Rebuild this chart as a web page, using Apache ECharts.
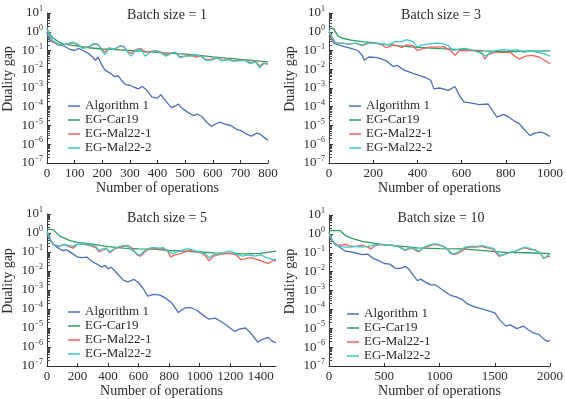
<!DOCTYPE html>
<html>
<head>
<meta charset="utf-8">
<script src="https://cdn.jsdelivr.net/npm/echarts@6/dist/echarts.min.js"></script>
<style>
  html, body { margin: 0; padding: 0; background: #fff; }
  #chart { width: 566px; height: 399px; }
</style>
</head>
<body>
<div id="chart"></div>
<script>
const seriesNames = ['Algorithm 1', 'EG-Car19', 'EG-Mal22-1', 'EG-Mal22-2']
const batchTitles = ['Batch size = 1', 'Batch size = 3', 'Batch size = 5', 'Batch size = 10']
const xMax = [800, 1000, 1500, 2000]
const xInterval = [100, 200, 200, 500]

// batch size = 1
const b1Alg = [[0, 1.0], [5, 0.5], [10, 0.35], [20, 0.3], [40, 0.2], [60, 0.18], [80, 0.12], [100, 0.1], [115, 0.13], [130, 0.1], [150, 0.07], [165, 0.045], [175, 0.03], [185, 0.045], [200, 0.015], [210, 0.009], [230, 0.006], [245, 0.004], [258, 0.0045], [270, 0.0025], [285, 0.0015], [300, 0.0014], [315, 0.0011], [330, 0.0009], [345, 0.0012], [360, 0.0008], [380, 0.00033], [400, 0.00029], [412, 0.00044], [430, 0.0002], [450, 0.00009], [465, 0.00011], [475, 0.00014], [490, 0.00008], [510, 0.00005], [530, 0.000034], [545, 0.00004], [560, 0.00003], [580, 0.000014], [595, 0.000009], [610, 0.000012], [625, 0.000015], [645, 0.000012], [665, 0.00001], [685, 0.0000065], [700, 0.0000055], [720, 0.0000036], [740, 0.0000027], [760, 0.0000039], [772, 0.0000034], [785, 0.0000024], [800, 0.0000016]]
const b1Car = [[0, 1.4], [10, 0.8], [20, 0.5], [40, 0.3], [60, 0.22], [100, 0.18], [150, 0.14], [200, 0.12], [250, 0.11], [300, 0.1], [350, 0.09], [400, 0.08], [450, 0.07], [500, 0.064], [550, 0.055], [600, 0.046], [650, 0.039], [700, 0.034], [750, 0.029], [800, 0.025]]
const b1Mal1 = [[0, 1.5], [8, 0.6], [20, 0.3], [40, 0.22], [60, 0.2], [80, 0.23], [95, 0.26], [110, 0.2], [130, 0.14], [150, 0.16], [170, 0.22], [185, 0.2], [200, 0.11], [210, 0.08], [225, 0.14], [245, 0.12], [265, 0.17], [280, 0.15], [295, 0.08], [305, 0.07], [320, 0.11], [340, 0.13], [355, 0.08], [375, 0.09], [395, 0.1], [415, 0.08], [430, 0.06], [450, 0.075], [465, 0.08], [480, 0.045], [500, 0.05], [520, 0.055], [540, 0.045], [560, 0.05], [575, 0.033], [595, 0.035], [615, 0.04], [635, 0.03], [655, 0.035], [675, 0.028], [695, 0.03], [715, 0.032], [735, 0.022], [755, 0.026], [770, 0.015], [785, 0.022], [800, 0.018]]
const b1Mal2 = [[0, 1.6], [8, 0.7], [20, 0.35], [40, 0.22], [60, 0.2], [80, 0.24], [95, 0.28], [110, 0.22], [130, 0.13], [150, 0.15], [170, 0.24], [185, 0.22], [200, 0.09], [210, 0.06], [225, 0.13], [245, 0.12], [265, 0.18], [280, 0.16], [295, 0.07], [305, 0.05], [320, 0.1], [340, 0.12], [355, 0.05], [375, 0.08], [395, 0.1], [415, 0.07], [430, 0.05], [450, 0.07], [465, 0.08], [480, 0.04], [500, 0.05], [520, 0.05], [540, 0.06], [560, 0.045], [575, 0.03], [595, 0.03], [615, 0.04], [635, 0.028], [655, 0.033], [675, 0.026], [695, 0.028], [715, 0.03], [735, 0.02], [755, 0.025], [770, 0.012], [785, 0.02], [800, 0.02]]

// batch size = 3
const b3Alg = [[0, 1.0], [20, 0.25], [60, 0.17], [100, 0.13], [130, 0.1], [150, 0.056], [160, 0.03], [180, 0.045], [220, 0.042], [260, 0.028], [290, 0.014], [310, 0.016], [340, 0.009], [380, 0.006], [420, 0.0042], [440, 0.0035], [460, 0.0026], [475, 0.0009], [500, 0.001], [540, 0.00075], [570, 0.0012], [590, 0.0004], [610, 0.00018], [640, 0.00016], [680, 0.00013], [720, 0.00014], [740, 0.00006], [760, 0.000028], [790, 0.000039], [810, 0.00003], [840, 0.000017], [860, 0.000013], [880, 0.0000067], [910, 0.0000029], [930, 0.0000039], [960, 0.0000044], [980, 0.0000036], [1000, 0.0000026]]
const b3Car = [[0, 1.5], [20, 1.5], [40, 0.6], [60, 0.45], [100, 0.36], [150, 0.3], [200, 0.26], [300, 0.18], [400, 0.145], [500, 0.125], [600, 0.11], [700, 0.095], [800, 0.086], [900, 0.092], [1000, 0.095]]
const b3Mal1 = [[0, 1.0], [15, 0.4], [30, 0.25], [60, 0.25], [90, 0.22], [120, 0.25], [150, 0.18], [180, 0.25], [210, 0.25], [240, 0.2], [260, 0.14], [290, 0.2], [310, 0.18], [330, 0.14], [350, 0.2], [380, 0.18], [400, 0.1], [420, 0.12], [450, 0.15], [480, 0.15], [520, 0.16], [550, 0.1], [570, 0.055], [590, 0.1], [620, 0.1], [660, 0.1], [690, 0.08], [705, 0.035], [720, 0.06], [750, 0.08], [790, 0.08], [820, 0.08], [840, 0.05], [860, 0.035], [890, 0.05], [920, 0.055], [950, 0.045], [975, 0.03], [1000, 0.02]]
const b3Mal2 = [[0, 1.2], [15, 0.5], [30, 0.25], [60, 0.25], [90, 0.22], [120, 0.25], [150, 0.2], [180, 0.25], [210, 0.25], [240, 0.22], [270, 0.2], [300, 0.3], [330, 0.3], [350, 0.38], [380, 0.3], [400, 0.15], [420, 0.2], [450, 0.22], [480, 0.25], [510, 0.24], [540, 0.18], [560, 0.1], [590, 0.12], [620, 0.13], [650, 0.1], [690, 0.07], [710, 0.05], [730, 0.08], [760, 0.1], [790, 0.11], [820, 0.1], [850, 0.11], [880, 0.08], [910, 0.1], [940, 0.08], [970, 0.07], [1000, 0.05]]

// batch size = 5
const b5Alg = [[0, 1.0], [20, 0.4], [50, 0.22], [80, 0.15], [100, 0.12], [130, 0.13], [160, 0.09], [200, 0.054], [230, 0.05], [260, 0.054], [300, 0.03], [340, 0.02], [360, 0.016], [380, 0.02], [400, 0.013], [420, 0.016], [460, 0.0074], [500, 0.0033], [530, 0.0027], [570, 0.0036], [600, 0.0024], [630, 0.0012], [660, 0.00048], [700, 0.00059], [740, 0.00054], [780, 0.00036], [820, 0.0002], [860, 0.000065], [900, 0.00011], [940, 0.00012], [980, 0.000086], [1020, 0.000049], [1060, 0.000029], [1100, 0.000033], [1140, 0.000022], [1180, 0.000013], [1230, 0.0000066], [1260, 0.0000087], [1300, 0.00001], [1330, 0.000006], [1380, 0.0000018], [1410, 0.0000025], [1450, 0.0000032], [1480, 0.0000019], [1500, 0.0000017]]
const b5Car = [[0, 1.6], [40, 1.5], [80, 0.73], [100, 0.6], [150, 0.4], [200, 0.32], [300, 0.26], [400, 0.19], [500, 0.16], [600, 0.145], [700, 0.14], [800, 0.12], [900, 0.11], [1000, 0.1], [1100, 0.09], [1200, 0.085], [1300, 0.08], [1400, 0.085], [1500, 0.11]]
const b5Mal1 = [[0, 1.2], [20, 0.5], [40, 0.25], [80, 0.2], [110, 0.25], [140, 0.2], [170, 0.16], [200, 0.25], [240, 0.25], [280, 0.22], [320, 0.17], [340, 0.1], [360, 0.12], [390, 0.15], [410, 0.09], [440, 0.14], [470, 0.17], [500, 0.2], [530, 0.22], [560, 0.15], [590, 0.07], [610, 0.06], [640, 0.1], [670, 0.15], [700, 0.16], [730, 0.14], [760, 0.15], [790, 0.11], [810, 0.055], [840, 0.07], [870, 0.08], [900, 0.1], [940, 0.12], [980, 0.1], [1010, 0.09], [1040, 0.06], [1060, 0.035], [1090, 0.06], [1120, 0.07], [1160, 0.08], [1200, 0.085], [1240, 0.07], [1270, 0.04], [1300, 0.045], [1340, 0.05], [1380, 0.04], [1420, 0.03], [1450, 0.025], [1480, 0.035], [1500, 0.035]]
const b5Mal2 = [[0, 1.3], [20, 0.5], [40, 0.25], [80, 0.2], [110, 0.25], [140, 0.22], [170, 0.2], [200, 0.25], [240, 0.26], [280, 0.25], [320, 0.2], [340, 0.12], [360, 0.14], [390, 0.16], [410, 0.1], [440, 0.15], [470, 0.19], [500, 0.22], [530, 0.2], [560, 0.12], [590, 0.08], [610, 0.07], [640, 0.12], [670, 0.16], [700, 0.17], [730, 0.16], [760, 0.17], [790, 0.12], [820, 0.08], [850, 0.1], [880, 0.12], [920, 0.15], [960, 0.12], [1000, 0.1], [1040, 0.08], [1060, 0.05], [1090, 0.07], [1130, 0.08], [1170, 0.1], [1200, 0.11], [1240, 0.08], [1280, 0.06], [1320, 0.07], [1360, 0.06], [1400, 0.07], [1440, 0.05], [1480, 0.04], [1500, 0.04]]

// batch size = 10
const b10Alg = [[0, 1.2], [30, 0.44], [60, 0.29], [100, 0.19], [150, 0.12], [200, 0.11], [250, 0.094], [300, 0.08], [350, 0.085], [400, 0.05], [450, 0.038], [500, 0.027], [550, 0.025], [600, 0.015], [650, 0.015], [690, 0.019], [720, 0.014], [760, 0.0068], [800, 0.0033], [830, 0.004], [880, 0.0026], [920, 0.002], [960, 0.002], [1000, 0.0014], [1050, 0.00085], [1100, 0.00056], [1150, 0.00046], [1200, 0.00035], [1250, 0.0002], [1300, 0.00015], [1350, 0.00012], [1400, 0.0001], [1450, 0.00008], [1500, 0.000066], [1550, 0.000026], [1600, 0.000013], [1640, 0.000015], [1700, 0.0000096], [1760, 0.000013], [1800, 0.0000086], [1850, 0.0000057], [1900, 0.0000046], [1950, 0.0000025], [1980, 0.000002], [2000, 0.0000023]]
const b10Car = [[0, 1.5], [100, 1.5], [150, 0.8], [200, 0.6], [300, 0.4], [400, 0.32], [500, 0.26], [600, 0.24], [800, 0.18], [1000, 0.165], [1200, 0.16], [1400, 0.13], [1600, 0.105], [1800, 0.1], [2000, 0.09]]
const b10Mal1 = [[0, 1.0], [30, 0.4], [60, 0.25], [100, 0.25], [150, 0.28], [200, 0.22], [250, 0.22], [300, 0.25], [350, 0.2], [380, 0.16], [420, 0.25], [470, 0.27], [520, 0.26], [570, 0.25], [620, 0.22], [660, 0.18], [690, 0.13], [720, 0.16], [760, 0.17], [790, 0.13], [810, 0.11], [850, 0.18], [900, 0.22], [950, 0.28], [1000, 0.25], [1050, 0.2], [1090, 0.12], [1120, 0.08], [1160, 0.09], [1200, 0.12], [1240, 0.18], [1280, 0.2], [1330, 0.2], [1380, 0.22], [1430, 0.18], [1480, 0.16], [1510, 0.1], [1540, 0.065], [1580, 0.08], [1620, 0.1], [1660, 0.11], [1700, 0.13], [1740, 0.17], [1780, 0.18], [1820, 0.15], [1870, 0.14], [1910, 0.1], [1940, 0.05], [1970, 0.06], [2000, 0.065]]
const b10Mal2 = [[0, 1.2], [30, 0.45], [60, 0.25], [100, 0.22], [150, 0.2], [200, 0.2], [250, 0.22], [300, 0.2], [350, 0.22], [400, 0.25], [450, 0.28], [500, 0.28], [560, 0.25], [620, 0.22], [660, 0.16], [690, 0.14], [720, 0.17], [760, 0.18], [790, 0.15], [820, 0.12], [860, 0.2], [910, 0.26], [960, 0.3], [1010, 0.25], [1060, 0.18], [1100, 0.09], [1140, 0.09], [1180, 0.12], [1230, 0.2], [1280, 0.22], [1340, 0.22], [1390, 0.24], [1440, 0.2], [1490, 0.17], [1520, 0.1], [1550, 0.07], [1590, 0.08], [1630, 0.1], [1680, 0.12], [1730, 0.15], [1770, 0.2], [1820, 0.17], [1870, 0.13], [1910, 0.1], [1945, 0.05], [1975, 0.07], [2000, 0.085]]

const panelData = [
  [b1Alg, b1Car, b1Mal1, b1Mal2],
  [b3Alg, b3Car, b3Mal1, b3Mal2],
  [b5Alg, b5Car, b5Mal1, b5Mal2],
  [b10Alg, b10Car, b10Mal1, b10Mal2],
]

const colors = ['#4a6fc0', '#2e9b60', '#f2625c', '#3cc9c4']
const font = 'Liberation Serif'
const textColor = '#2b2b2b'

// plot areas in pixels
const grids = [
  { left: 44, top: 13, width: 224, height: 150 },
  { left: 329, top: 13, width: 224, height: 150 },
  { left: 44, top: 214, width: 232, height: 152 },
  { left: 329, top: 215, width: 224, height: 151 },
]
const legendPos = [
  { left: 63, top: 94 },
  { left: 344, top: 94 },
  { left: 63, top: 300 },
  { left: 342, top: 302 },
]
const titlePos = [
  { x: 167, y: 8 },
  { x: 441, y: 8 },
  { x: 167, y: 211 },
  { x: 441, y: 211 },
]

const chart = echarts.init(document.getElementById('chart'), null, { renderer: 'canvas' })

const sup = (v) => {
  const e = Math.round(Math.log10(v))
  return '{b|10}{s|' + String(e).replace('-', '\u2212') + '}'
}

chart.setOption({
  animation: false,
  color: colors,
  textStyle: { fontFamily: font, color: textColor },
  graphic: titlePos.map((p, i) => ({
    type: 'text',
    x: p.x,
    y: p.y,
    style: {
      text: batchTitles[i],
      fontFamily: font,
      fontSize: 14,
      fill: textColor,
      align: 'center',
      verticalAlign: 'top',
    },
  })),
  legend: legendPos.map((p) => ({
    data: seriesNames,
    orient: 'vertical',
    left: p.left,
    top: p.top,
    icon: 'rect',
    itemWidth: 12,
    itemHeight: 1.5,
    itemGap: 0,
    textStyle: { fontFamily: font, fontSize: 13, color: textColor, lineHeight: 14 },
  })),
  grid: grids.map((g) => ({ ...g, containLabel: false })),
  xAxis: grids.map((g, i) => ({
    type: 'value',
    gridIndex: i,
    min: 0,
    max: xMax[i],
    interval: xInterval[i],
    name: 'Number of operations',
    nameLocation: 'middle',
    nameGap: 18,
    nameTextStyle: { fontFamily: font, fontSize: 14, color: textColor },
    axisLine: { lineStyle: { color: '#333', width: 1 } },
    axisTick: { inside: true, length: 3, lineStyle: { color: '#333' } },
    axisLabel: {
      fontFamily: font,
      fontSize: 13,
      color: textColor,
      margin: 4,
      showMaxLabel: xMax[i] % xInterval[i] === 0,
      formatter: (v) => String(v),
    },
    splitLine: { show: false },
  })),
  yAxis: grids.map((g, i) => ({
    type: 'log',
    gridIndex: i,
    logBase: 10,
    min: 1e-7,
    max: 10,
    interval: 1,
    name: 'Duality gap',
    nameLocation: 'middle',
    nameGap: 32,
    nameTextStyle: { fontFamily: font, fontSize: 14, color: textColor, padding: [0, 0, 0, 18] },
    axisLine: { show: true, lineStyle: { color: '#333', width: 1 } },
    axisTick: { inside: true, length: 4, lineStyle: { color: '#333' } },
    minorTick: { show: true, splitNumber: 9, length: 3, lineStyle: { color: '#444' } },
    axisLabel: {
      margin: 4,
      formatter: sup,
      rich: {
        b: { fontFamily: font, fontSize: 13, color: textColor },
        s: { fontFamily: font, fontSize: 8, color: textColor, padding: [0, 0, 8, 0] },
      },
    },
    splitLine: { show: false },
  })),
  series: panelData.flatMap((lines, i) => lines.map((d, k) => ({
    name: seriesNames[k],
    type: 'line',
    xAxisIndex: i,
    yAxisIndex: i,
    data: d,
    symbol: 'none',
    lineStyle: { width: 1.3, color: colors[k] },
    itemStyle: { color: colors[k] },
  }))),
})
</script>
</body>
</html>
